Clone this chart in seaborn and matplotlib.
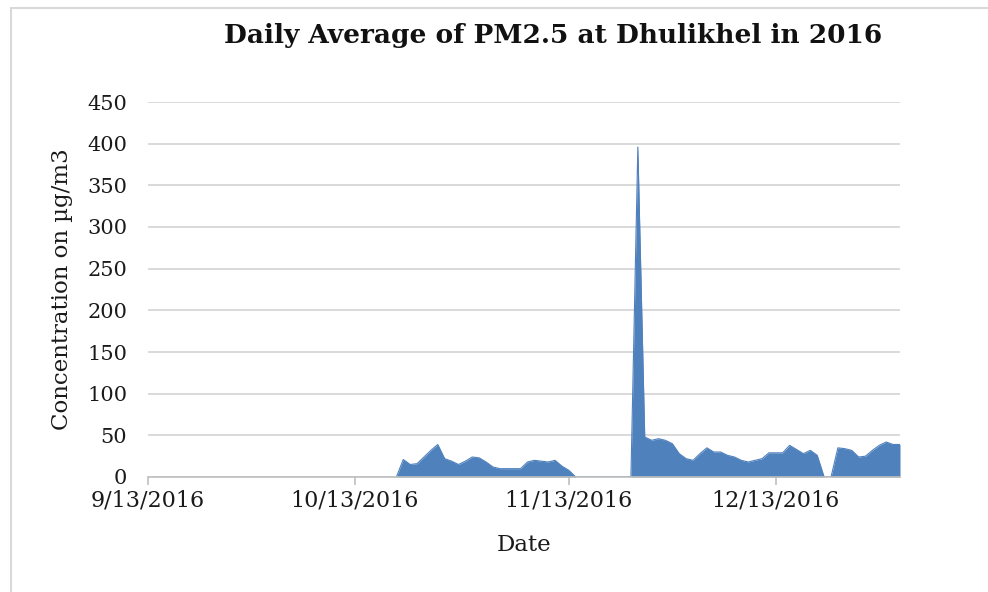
import matplotlib
matplotlib.use("Agg")
import matplotlib.pyplot as plt
import matplotlib.lines as mlines
import seaborn as sns
import pandas as pd

# daily PM2.5 averages, Dhulikhel, 19 Oct - 31 Dec 2016 (blank days shown as 0)
START_DATE = "2016-10-19"
PM25 = [0,
        21, 15, 16, 24, 32, 39, 22, 19, 15, 19, 24, 23, 18, 12, 10, 10, 10, 10,
        18, 20, 19, 18, 20, 13, 8,
        0, 0, 0, 0, 0, 0, 0, 0, 0,
        396,
        48, 44, 46, 44, 40, 28, 22, 20, 28, 35, 30, 30, 26, 24, 20, 18, 20, 22,
        29, 29, 29, 38, 33, 28, 32, 26,
        0, 0,
        35, 34, 32, 24, 25, 32, 38, 42, 39, 39]
X_TICKS = ["2016-09-13", "2016-10-13", "2016-11-13", "2016-12-13"]
X_TICK_LABELS = ["9/13/2016", "10/13/2016", "11/13/2016", "12/13/2016"]
Y_TICKS = [0, 50, 100, 150, 200, 250, 300, 350, 400, 450]

FILL = "#4F81BD"
GRID = "#D9D9D9"
FONT = ["DejaVu Serif"]

sns.set_theme(style="white")
plt.rcParams["font.family"] = FONT

df = pd.DataFrame({"Date": pd.date_range(START_DATE, periods=len(PM25), freq="D"),
                   "PM25": PM25})

fig = plt.figure(figsize=(9.88, 5.92), dpi=100)
ax = fig.add_axes([148 / 988, 1 - 477 / 592, (900 - 148) / 988, (477 - 102) / 592])

ax.fill_between(df["Date"], df["PM25"], 0, color=FILL, linewidth=0, zorder=3)
sns.lineplot(data=df, x="Date", y="PM25", color=FILL, linewidth=0.8, ax=ax, zorder=3)

ax.set_xlim(pd.Timestamp("2016-09-13"), pd.Timestamp("2016-12-31"))
ax.set_ylim(0, 450)
ax.set_yticks(Y_TICKS)
ax.set_xticks(pd.to_datetime(X_TICKS))
ax.set_xticklabels(X_TICK_LABELS)
ax.yaxis.grid(True, color=GRID, linewidth=1.4, zorder=0)
ax.xaxis.grid(False)
for s in ["top", "right", "left"]:
    ax.spines[s].set_visible(False)
ax.spines["bottom"].set_color("#BFBFBF")
ax.spines["bottom"].set_linewidth(1.2)
ax.spines["bottom"].set_zorder(4)
ax.tick_params(axis="x", bottom=True, length=6, width=1.2, color="#BFBFBF",
               labelsize=16, pad=3, labelcolor="#1a1a1a")
ax.tick_params(axis="y", left=False, labelsize=15, pad=9, labelcolor="#1a1a1a")

ax.set_xlabel("Date", fontsize=16.5, color="#1a1a1a", labelpad=16)
ax.set_ylabel("Concentration on µg/m3", fontsize=16.5, color="#1a1a1a", labelpad=10)
fig.text(553 / 988, 1 - 36 / 592, "Daily Average of PM2.5 at Dhulikhel in 2016",
         ha="center", va="center", fontsize=19, fontweight="bold", color="#111111")

# chart-area border (top and left edges are visible in the source image)
fig.add_artist(mlines.Line2D([11 / 988, 11 / 988], [0, 1 - 8 / 592],
                             color="#D9D9D9", linewidth=1.5))
fig.add_artist(mlines.Line2D([11 / 988, 1], [1 - 8 / 592, 1 - 8 / 592],
                             color="#D9D9D9", linewidth=1.5))

fig.savefig("out.png", dpi=100)
plt.close()
